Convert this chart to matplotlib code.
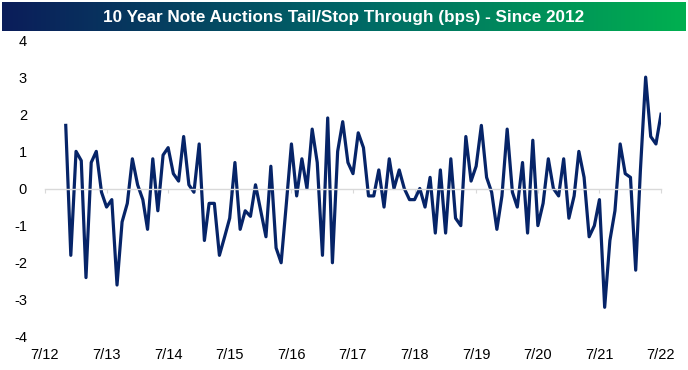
import matplotlib
matplotlib.use("Agg")
import matplotlib.pyplot as plt
import numpy as np
import pandas as pd
from matplotlib.colors import LinearSegmentedColormap

# 10 year note auctions, Nov 2012 - Jul 2022 (bps)
start_month = "2012-11-01"
tail_bps = [
    1.7, -1.8, 1.0, 0.75, -2.4, 0.7, 1.0, -0.1, -0.5, -0.3,
    -2.6, -0.9, -0.4, 0.8, 0.1, -0.3, -1.1, 0.8, -0.6, 0.9,
    1.1, 0.4, 0.2, 1.4, 0.1, -0.1, 1.2, -1.4, -0.4, -0.4,
    -1.8, -1.3, -0.8, 0.7, -1.1, -0.6, -0.75, 0.1, -0.6, -1.3,
    0.6, -1.6, -2.0, -0.4, 1.2, -0.2, 0.8, 0.0, 1.6, 0.7,
    -1.8, 1.9, -2.0, 1.0, 1.8, 0.7, 0.4, 1.5, 1.1, -0.2,
    -0.2, 0.5, -0.5, 0.8, 0.0, 0.5, 0.0, -0.3, -0.3, 0.0,
    -0.5, 0.3, -1.2, 0.5, -1.2, 0.8, -0.8, -1.0, 1.4, 0.2,
    0.6, 1.7, 0.3, -0.1, -1.1, -0.2, 1.6, -0.1, -0.5, 0.7,
    -1.2, 1.3, -1.0, -0.4, 0.8, 0.0, -0.2, 0.8, -0.8, -0.2,
    1.0, 0.3, -1.3, -1.0, -0.3, -3.2, -1.4, -0.6, 1.2, 0.4,
    0.3, -2.2, 0.5, 3.0, 1.4, 1.2, 2.0,
]
tick_years = list(range(2012, 2023))
y_ticks = [-4, -3, -2, -1, 0, 1, 2, 3, 4]
title = "10 Year Note Auctions Tail/Stop Through (bps) - Since 2012"

dates = pd.date_range(start_month, periods=len(tail_bps), freq="MS")
tick_dates = [pd.Timestamp(year=y, month=7, day=1) for y in tick_years]
tick_labels = [f"7/{str(y)[2:]}" for y in tick_years]

fig = plt.figure(figsize=(6.88, 3.70), dpi=100)

# gradient title banner
ban = fig.add_axes([0.003, 1 - 31 / 370, 0.994, 29 / 370])
cmap = LinearSegmentedColormap.from_list("ban", ["#0b1d5a", "#006567", "#00b050"])
ban.imshow(np.linspace(0, 1, 256)[None, :], aspect="auto", cmap=cmap, extent=[0, 1, 0, 1])
ban.set_axis_off()
ban.text(0.5, 0.48, title, color="white", fontsize=12.3, fontweight="bold",
         ha="center", va="center", family="Liberation Sans")

ax = fig.add_axes([45 / 688, 1 - 337 / 370, (661 - 45) / 688, (337 - 40) / 370])
ax.plot(dates, tail_bps, color="#062468", lw=2.3)

ax.set_xlim(tick_dates[0], tick_dates[-1])
ax.set_ylim(-4, 4)
ax.set_yticks(y_ticks)
ax.set_yticklabels([str(v) for v in y_ticks], family="Liberation Sans", fontsize=10.5)
ax.tick_params(axis="y", length=0, pad=13)

for s in ["top", "right", "left"]:
    ax.spines[s].set_visible(False)
ax.spines["bottom"].set_position(("data", 0))
ax.spines["bottom"].set_color("#d9d9d9")
ax.spines["bottom"].set_linewidth(1.0)
ax.set_xticks(tick_dates)
ax.tick_params(axis="x", length=3, color="#d9d9d9", labelbottom=False)

sec = ax.secondary_xaxis(0.0)
sec.set_xticks(tick_dates)
sec.set_xticklabels(tick_labels, family="Liberation Sans", fontsize=10.5)
sec.tick_params(length=0, pad=8)
sec.spines["bottom"].set_visible(False)

fig.savefig("out.png", dpi=100)
